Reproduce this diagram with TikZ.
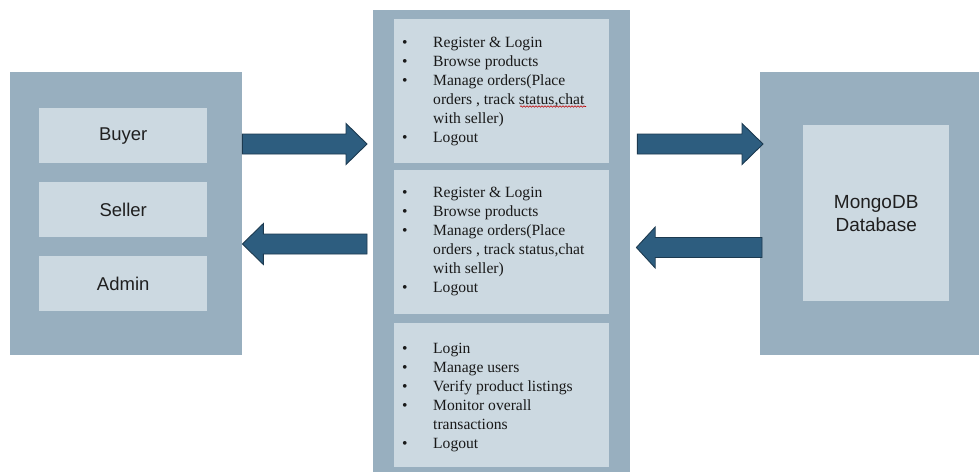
\documentclass[tikz,border=0pt]{standalone}
\usepackage{fontspec}
\setmainfont{Liberation Serif}
\newfontfamily\labelfont{Liberation Sans}
\usetikzlibrary{calc,decorations.pathmorphing}

\definecolor{panelblue}{HTML}{98AFBF}
\definecolor{cardblue}{HTML}{CCD9E1}
\definecolor{arrowblue}{HTML}{2D5D7F}
\definecolor{arrowedge}{HTML}{1C3A50}

\tikzset{
  panel/.style={fill=panelblue, draw=none, inner sep=0pt, anchor=north west},
  card/.style={fill=cardblue, draw=none, inner sep=0pt, anchor=north west},
  rolelabel/.style={font=\labelfont\fontsize{18.5}{23}\selectfont, text=black!88, align=center},
  tasklist/.style={anchor=base west, inner sep=0pt, font=\fontsize{15.6}{19}\selectfont, text=black!90},
  blockarrow/.style={fill=arrowblue, draw=arrowedge, line width=0.9pt, line join=miter},
  spellmark/.style={draw=red!75!black, line width=0.6pt, decorate,
    decoration={snake, amplitude=0.7pt, segment length=3pt}},
}

% thick block arrow from #1 (tail) to #2 (tip), horizontal
\newcommand\fatarrow[2]{%
  \draw[blockarrow] let \p1=(#1), \p2=(#2), \p3=($(#2)!21pt!(#1)$) in
    ({\x1},{\y1+10pt}) -- ({\x3},{\y1+10pt}) -- ({\x3},{\y1+20.5pt})
    -- ({\x2},{\y1}) -- ({\x3},{\y1-20.5pt}) -- ({\x3},{\y1-10pt})
    -- ({\x1},{\y1-10pt}) -- cycle;}

\newcommand\tasks[1]{\begin{tabular}[t]{@{}p{31pt}@{}l@{}}#1\end{tabular}}

\begin{document}
\begin{tikzpicture}[x=1pt,y=-1pt]
  \fill[white] (0,0) rectangle (979,472);
  \useasboundingbox (0,0) rectangle (979,472);

  % user roles
  \node[panel, minimum width=232pt, minimum height=283pt] (users) at (10,72) {};
  \node[card, rolelabel, minimum width=168pt, minimum height=55pt] (buyer) at (39,108) {Buyer};
  \node[card, rolelabel, minimum width=168pt, minimum height=55pt] (seller) at (39,182) {Seller};
  \node[card, rolelabel, minimum width=168pt, minimum height=55pt] (admin) at (39,256) {Admin};

  % application features
  \node[panel, minimum width=257pt, minimum height=462pt] (app) at (373,10) {};
  \node[card, minimum width=215pt, minimum height=144pt] (buyerfeat) at (394,19) {};
  \node[card, minimum width=215pt, minimum height=144pt] (sellerfeat) at (394,170) {};
  \node[card, minimum width=215pt, minimum height=144pt] (adminfeat) at (394,323) {};

  \node[tasklist] (buyertasks) at (402,47) {\tasks{%
    \textbullet & Register \& Login\\
    \textbullet & Browse products\\
    \textbullet & Manage orders(Place\\
                & orders , track status,chat\\
                & with seller)\\
    \textbullet & Logout}};
  \draw[spellmark] (520,106.5) -- (586,106.5);

  \node[tasklist] (sellertasks) at (402,197.5) {\tasks{%
    \textbullet & Register \& Login\\
    \textbullet & Browse products\\
    \textbullet & Manage orders(Place\\
                & orders , track status,chat\\
                & with seller)\\
    \textbullet & Logout}};

  \node[tasklist] (admintasks) at (402,353) {\tasks{%
    \textbullet & Login\\
    \textbullet & Manage users\\
    \textbullet & Verify product listings\\
    \textbullet & Monitor overall\\
                & transactions\\
    \textbullet & Logout}};

  % database
  \node[panel, minimum width=219pt, minimum height=283pt] (db) at (760,72) {};
  \node[card, rolelabel, font=\labelfont\fontsize{19}{23}\selectfont,
        minimum width=146pt, minimum height=176pt] (mongo) at (803,125) {MongoDB\\Database};

  % arrow end points on the panel edges
  \coordinate (u2a-tail) at ($(users.north east)+(0,72)$);
  \coordinate (u2a-tip)  at ($(app.north west)+(-6,134)$);
  \coordinate (a2u-tail) at ($(app.north west)+(-6,234)$);
  \coordinate (a2u-tip)  at ($(users.north east)+(0,172)$);
  \coordinate (a2d-tail) at ($(app.north east)+(7,134)$);
  \coordinate (a2d-tip)  at ($(db.north west)+(3,72)$);
  \coordinate (d2a-tail) at ($(db.north west)+(2,175.5)$);
  \coordinate (d2a-tip)  at ($(app.north east)+(6,175.5)$);

  \fatarrow{u2a-tail}{u2a-tip}
  \fatarrow{a2u-tail}{a2u-tip}
  \fatarrow{a2d-tail}{a2d-tip}
  \fatarrow{d2a-tail}{d2a-tip}
\end{tikzpicture}
\end{document}
